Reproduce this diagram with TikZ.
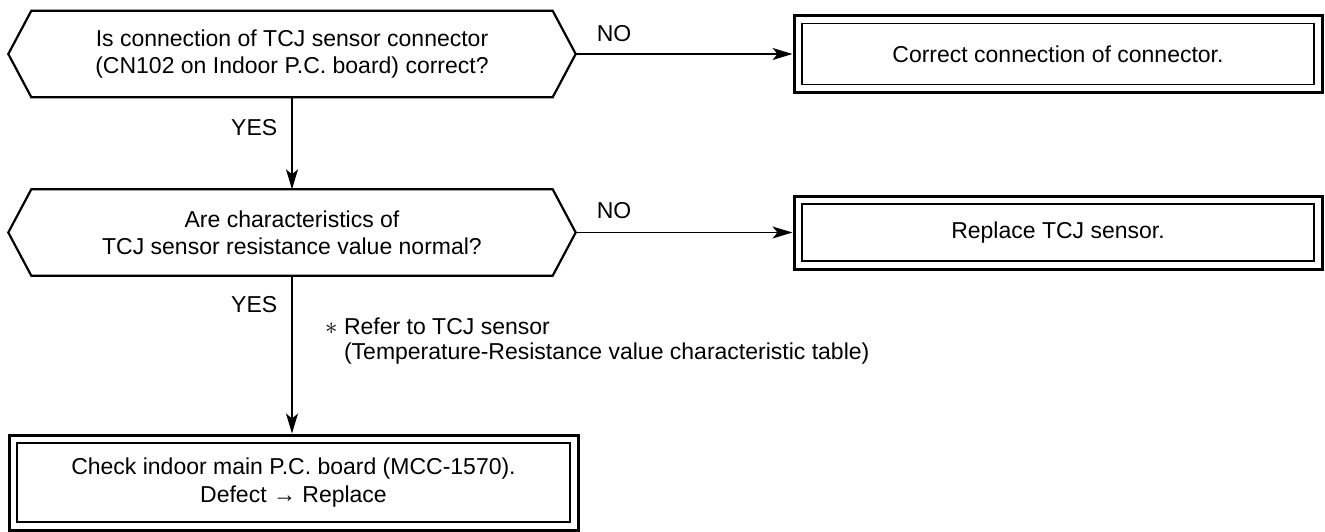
\documentclass[tikz,border=0pt]{standalone}
\usepackage{fontspec}
\setmainfont{Liberation Sans}
\usetikzlibrary{arrows.meta,calc}
\begin{document}
\begin{tikzpicture}[x=1pt,y=-1pt,
  txt/.style={font=\fontsize{23}{27}\selectfont, align=center},
  hexq/.style={txt, minimum width=521pt, minimum height=86pt, inner sep=0pt},
  hexline/.style={line width=2.2pt, line join=miter},
  dbox/.style={txt, draw, line width=3pt, inner sep=0pt,
    path picture={\draw[line width=1.2pt]
      ([shift={(8pt,-8pt)}]path picture bounding box.north west) rectangle
      ([shift={(-8pt,8pt)}]path picture bounding box.south east);}},
  conn/.style={line width=1.4pt, -{Stealth[length=20pt,width=12pt,inset=5pt]}},
  lbl/.style={font=\fontsize{23}{27}\selectfont, inner sep=0pt}
]
\useasboundingbox (0,0) rectangle (1325,532);

% decision 1
\node[hexq] (q1) at (292,54) {Is connection of TCJ sensor connector\\(CN102 on Indoor P.C. board) correct?};
\draw[hexline] (q1.north west) -- (q1.north east) -- ([xshift=23pt]q1.east) -- (q1.south east) -- (q1.south west) -- ([xshift=-23pt]q1.west) -- cycle;

% decision 2
\node[hexq] (q2) at (292,232.5) {Are characteristics of\\TCJ sensor resistance value normal?};
\draw[hexline] (q2.north west) -- (q2.north east) -- ([xshift=23pt]q2.east) -- (q2.south east) -- (q2.south west) -- ([xshift=-23pt]q2.west) -- cycle;

% action boxes
\node[dbox, minimum width=528pt, minimum height=77pt] (b1) at (1058,54) {Correct connection of connector.};
\node[dbox, minimum width=528pt, minimum height=73pt] (b2) at (1058,232.5) {Replace TCJ sensor.};
\node[dbox, minimum width=569pt, minimum height=95pt, font=\fontsize{23}{28}\selectfont] (b3) at (293.5,482.5) {Check indoor main P.C. board (MCC-1570).\\Defect → Replace};

% connectors
\draw[conn] ([xshift=23pt]q1.east) -- (b1.west);
\draw[conn] ([xshift=23pt]q2.east) -- (b2.west);
\draw[conn] (q1.south) -- (q2.north);
\draw[conn] (q2.south) -- (q2.south |- b3.north);

% labels
\node[lbl] (no1) at (614,33.5) {NO};
\node[lbl] (no2) at (614,211) {NO};
\node[lbl, anchor=west] (yes1) at (231,128) {YES};
\node[lbl, anchor=west] (yes2) at (231,305) {YES};
\node[lbl, anchor=north west, align=left, font=\fontsize{23}{25}\selectfont] (note) at (325,318) {$\ast$ Refer to TCJ sensor\\\hphantom{$\ast$ }(Temperature-Resistance value characteristic table)};
\end{tikzpicture}
\end{document}
